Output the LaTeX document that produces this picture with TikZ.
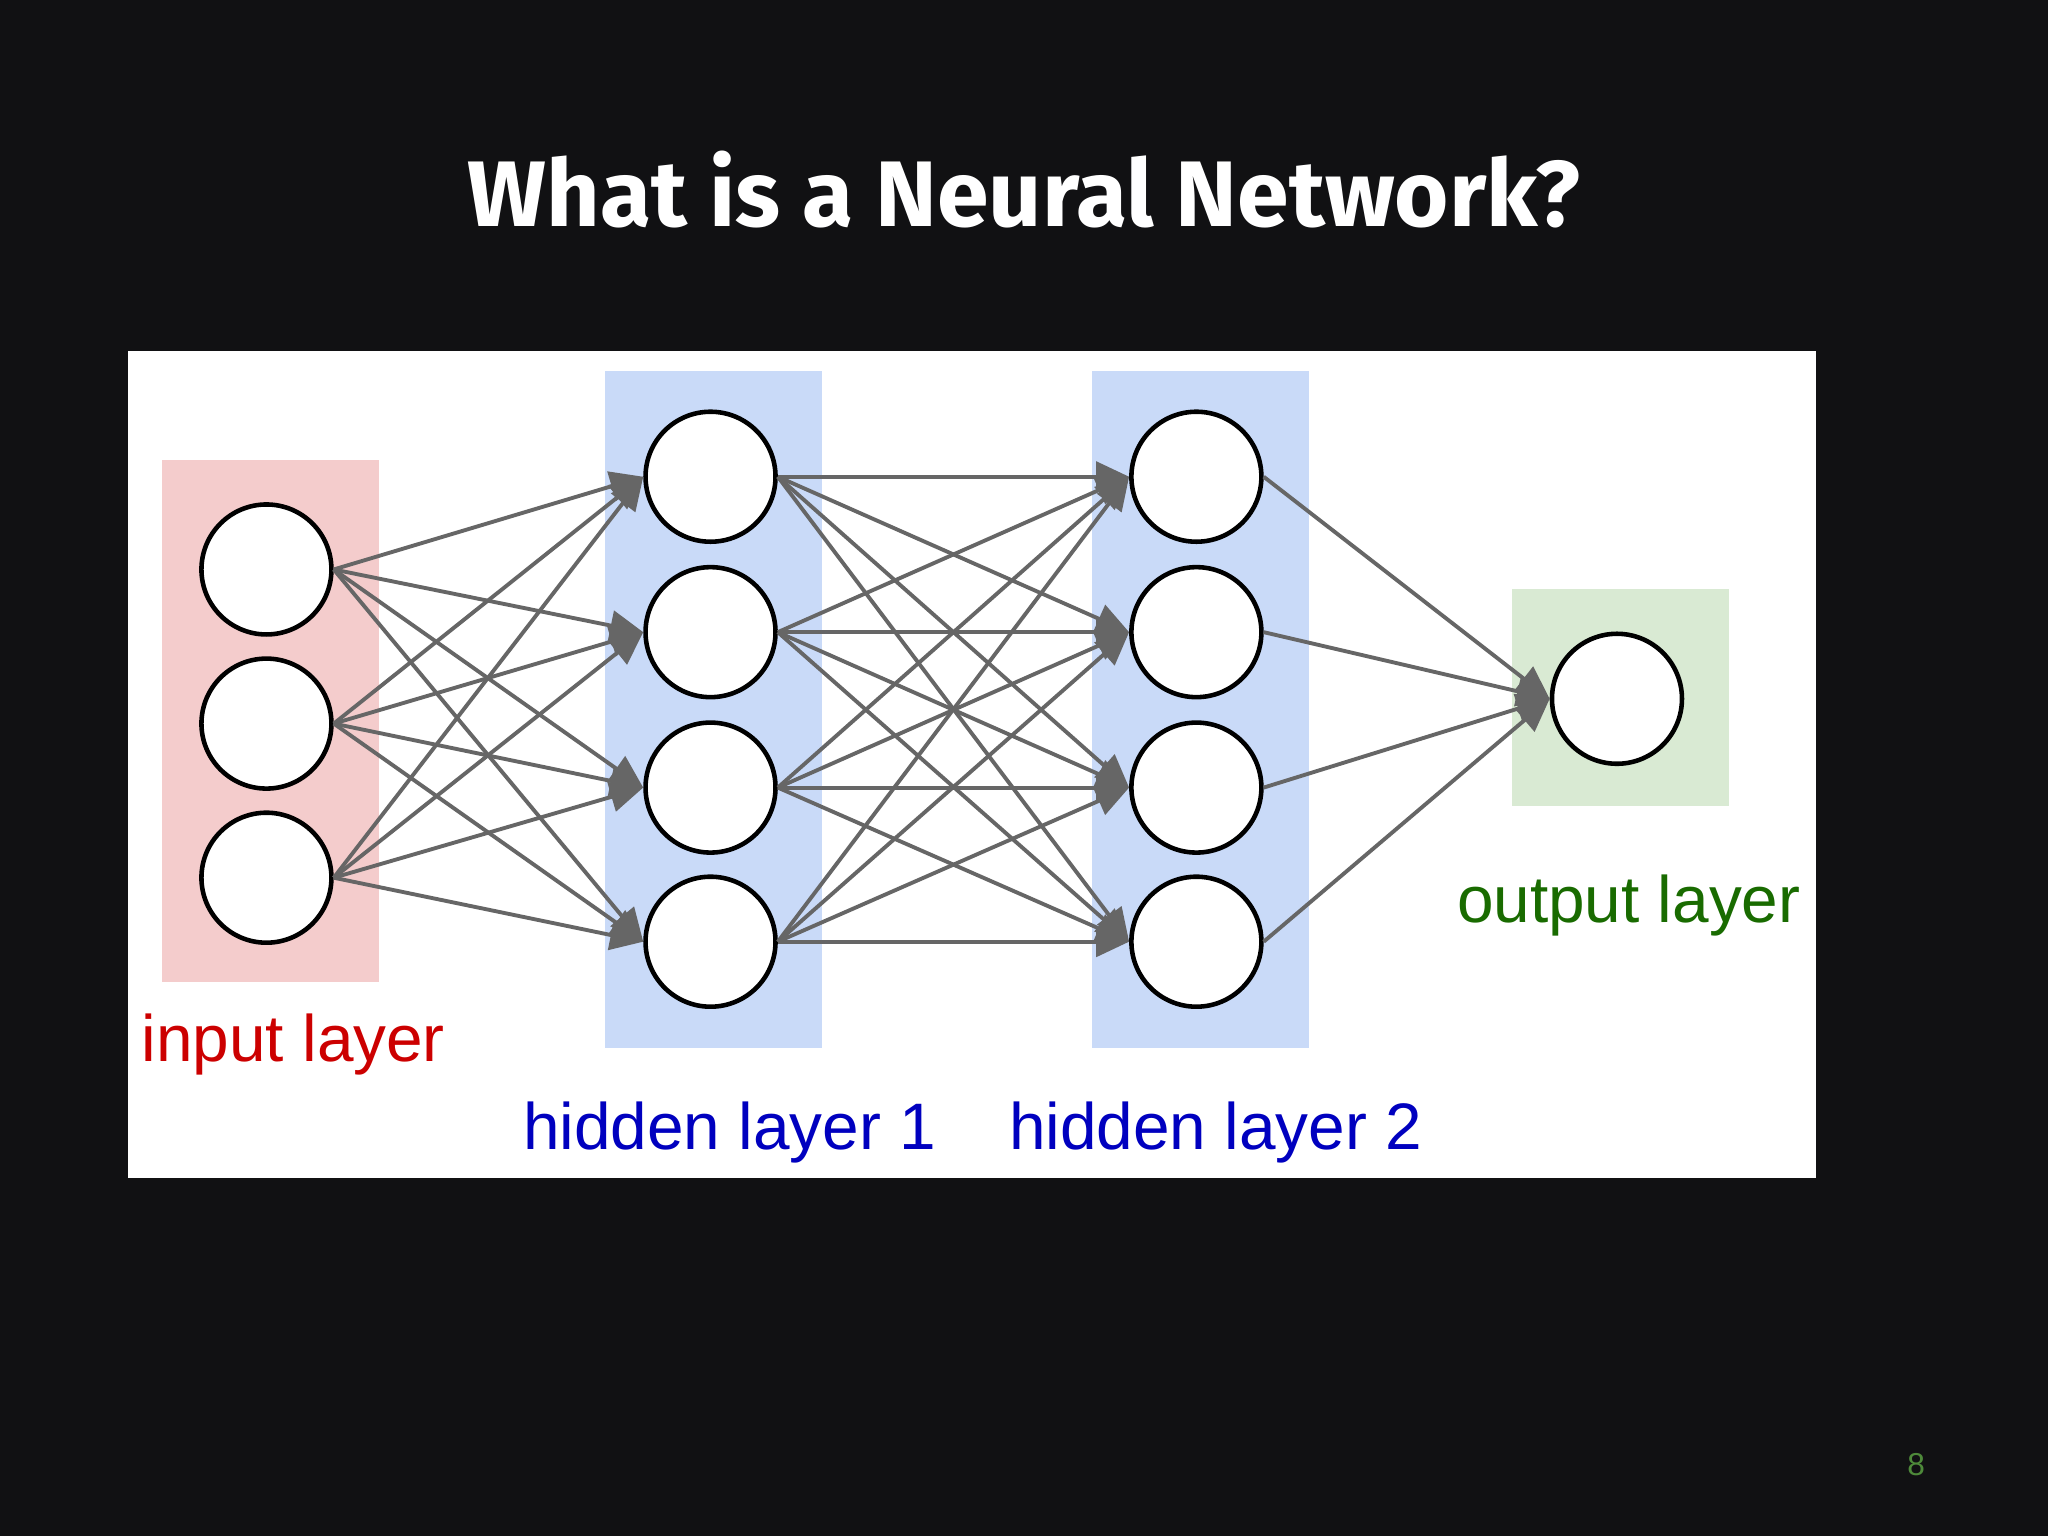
\documentclass[tikz,border=0pt]{standalone}
\usepackage{fontspec}
\setmainfont{Liberation Sans}
\newfontfamily\titlefont{Fira Sans}
\usetikzlibrary{arrows.meta}
\definecolor{bg}{HTML}{111113}
\definecolor{inred}{HTML}{F4CCCC}
\definecolor{hidblue}{HTML}{C9DAF8}
\definecolor{outgreen}{HTML}{D9EAD3}
\definecolor{edge}{HTML}{666666}
\definecolor{pgnum}{HTML}{4E8A3A}
\begin{document}
\begin{tikzpicture}[x=0.01306cm,y=-0.01306cm,
  neuron/.style={circle,draw=black,fill=white,line width=1.3pt,minimum size=1.3cm,inner sep=0},
  conn/.style={draw=edge,line width=1.1pt,-{Triangle[length=0.33cm,width=0.3cm]}},
  lab/.style={font=\fontsize{18.7}{22}\selectfont,anchor=base west,inner sep=0}]
\fill[bg] (0,0) rectangle (1568,1176);
\useasboundingbox (0,0) rectangle (1568,1176);
\node[text=white,font=\titlefont\bfseries\fontsize{26.5}{30}\selectfont] (title) at (784,145) {What is a Neural Network?};
\fill[white] (98,269) rectangle (1390,902);
\fill[inred] (124,352) rectangle (290,752);
\fill[hidblue] (463,284) rectangle (629,802);
\fill[hidblue] (836,284) rectangle (1002,802);
\fill[outgreen] (1158,451) rectangle (1324,617);
\foreach \i/\y in {1/436,2/554,3/672} \node[neuron] (i\i) at (204,\y) {};
\foreach \i/\y in {1/365,2/484,3/603,4/721} {\node[neuron] (a\i) at (544,\y) {}; \node[neuron] (b\i) at (916,\y) {};}
\node[neuron] (o) at (1238,535) {};
\foreach \i in {1,2,3} \foreach \j in {1,2,3,4} \draw[conn] (i\i.east) -- (a\j.west);
\foreach \i in {1,2,3,4} \foreach \j in {1,2,3,4} \draw[conn] (a\i.east) -- (b\j.west);
\foreach \i in {1,2,3,4} \draw[conn] (b\i.east) -- (o.west);
\node[lab,text=red!80!black] (l1) at (108,813) {input layer};
\node[lab,text=blue!75!black] (l2) at (400,880) {hidden layer 1};
\node[lab,text=blue!75!black] (l3) at (772,880) {hidden layer 2};
\node[lab,text=green!40!black!80!olive] (l4) at (1115,706) {output layer};
\node[text=pgnum,font=\fontsize{9}{10}\selectfont] (pg) at (1467,1121) {8};
\end{tikzpicture}
\end{document}
